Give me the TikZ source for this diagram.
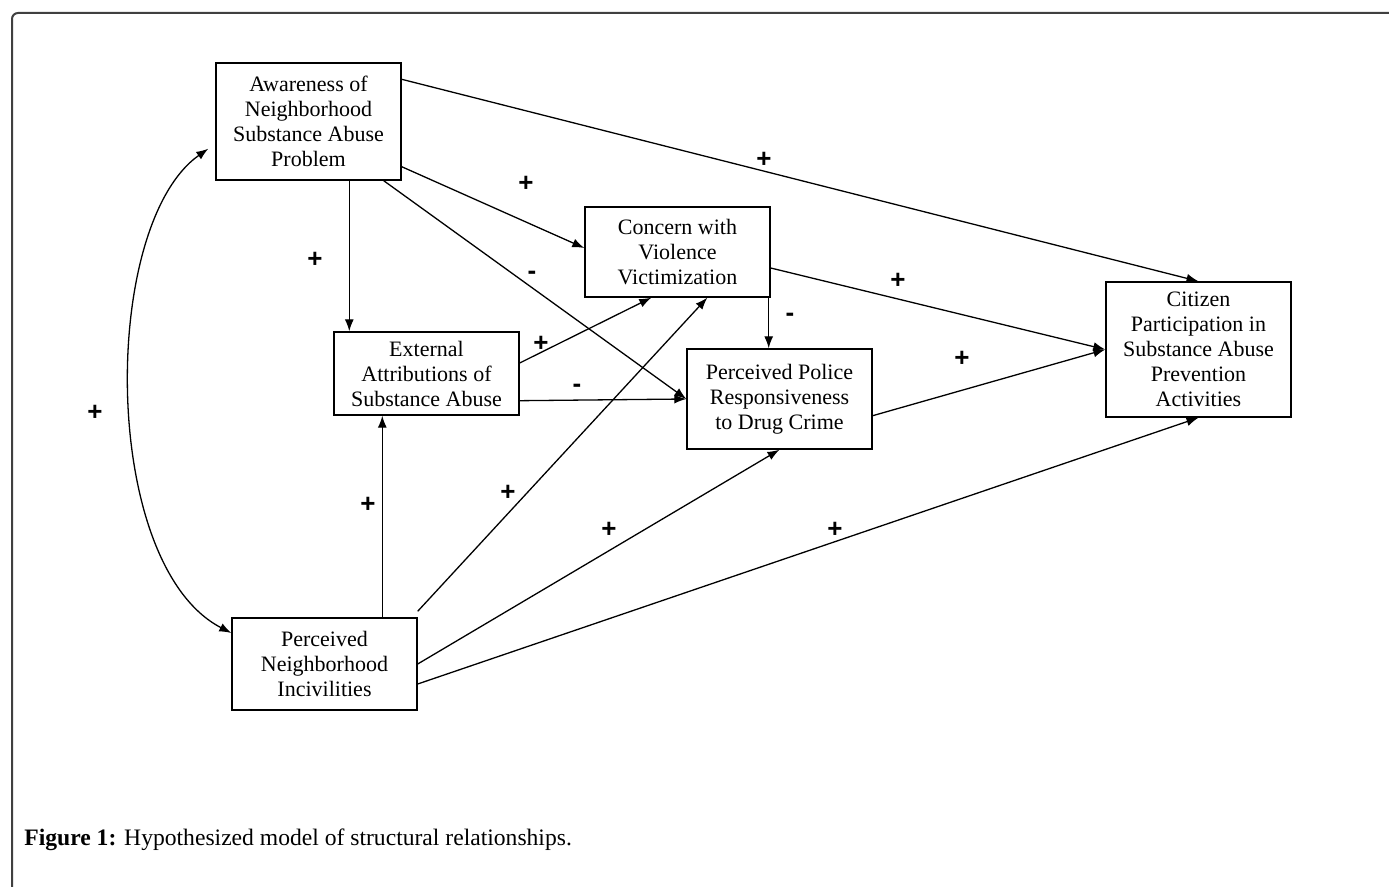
\documentclass[tikz,border=0pt]{standalone}
\usepackage{fontspec}
\setmainfont{Liberation Serif}
\newfontfamily\signfont{Liberation Sans}
\usetikzlibrary{arrows.meta,calc}

\tikzset{
  box/.style={draw, line width=0.7pt, minimum width=92.5pt, inner sep=1pt,
    align=center, font=\fontsize{11}{12.5}\selectfont},
  link/.style={line width=0.65pt, -{Latex[length=6pt,width=4.5pt]}},
  sign/.style={font=\signfont\bfseries\fontsize{13}{13}\selectfont, inner sep=0pt}
}

\begin{document}
\begin{tikzpicture}[x=0.5pt,y=-0.5pt]
  \useasboundingbox (0,0) rectangle (1389,887);
  \clip (0,0) rectangle (1389,887);
  \draw[rounded corners=3pt, line width=1pt, black!75] (12,13) rectangle (1420,920);

  % boxes
  \node[box, minimum height=58.5pt] (aware) at (308.5,121.5) {Awareness of\\Neighborhood\\Substance Abuse\\Problem};
  \node[box, minimum height=45pt] (concern) at (677.5,252) {Concern with\\Violence\\Victimization};
  \node[box, minimum height=41.5pt] (extern) at (426.5,373.5) {External\\Attributions of\\Substance Abuse};
  \node[box, minimum height=50pt] (police) at (779.5,399) {Perceived Police\\Responsiveness\\to Drug Crime};
  \node[box, minimum height=67.5pt] (citizen) at (1198.5,349.5) {Citizen\\Participation in\\Substance Abuse\\Prevention\\Activities};
  \node[box, minimum height=46pt] (incivil) at (324.5,664) {Perceived\\Neighborhood\\Incivilities};

  % paths from awareness
  \coordinate (aw) at ($(aware.south west)+(134,0)$);
  \draw[link] ($(aware.north east)+(0,17)$) -- (citizen.north);
  \draw[link] ($(aware.south east)+(0,-14)$) -- ($(concern.west)+(0,-4)$);
  \draw[link] ($(aware.south east)+(-18,0)$) -- (police.west);
  \draw[link] (aw) -- (aw |- extern.north);

  % paths from concern
  \coordinate (cv) at ($(concern.south east)+(-2,0)$);
  \draw[link] ($(concern.east)+(0,16)$) -- (citizen.west);
  \draw[link] (cv) -- (cv |- police.north);

  % paths from external attributions
  \draw[link] ($(extern.east)+(0,-10.5)$) -- ($(concern.south west)+(67,0)$);
  \draw[link] ($(extern.south east)+(0,-15)$) -- (police.west);

  % police to citizen
  \draw[link] ($(police.south east)+(0,-34)$) -- (citizen.west);

  % paths from incivilities
  \coordinate (iv) at ($(incivil.north west)+(151,0)$);
  \draw[link] (iv) -- (iv |- extern.south);
  \draw[link] ($(incivil.north east)+(0,-6)$) -- ($(concern.south west)+(123,0)$);
  \draw[link] (incivil.east) -- (police.south);
  \draw[link] ($(incivil.east)+(0,20)$) -- (citizen.south);

  % correlation
  \coordinate (cA) at ($(aware.south west)+(-7,-32)$);
  \coordinate (cI) at ($(incivil.west)+(0,-31)$);
  \draw[line width=0.65pt, {Latex[length=6pt,width=4.5pt]}-{Latex[length=6pt,width=4.5pt]}]
    (cA) .. controls (100,225) and (100,565) .. (cI);

  % signs
  \foreach \p [count=\i] in {(764,160),(526,184),(315,260),(898,281),(541,344),(962,359),
      (368,505),(508,493),(609,530),(835,530),(95,413)}
    \node[sign] (plus\i) at \p {+};
  \foreach \p [count=\i] in {(532,275),(790,317),(577,388)}
    \node[sign] (minus\i) at \p {-};

  % caption
  \node[anchor=base west, inner sep=0pt, font=\fontsize{11.8}{12}\selectfont] (caption) at (24,846)
    {\textbf{Figure 1:} Hypothesized model of structural relationships.};
\end{tikzpicture}
\end{document}
